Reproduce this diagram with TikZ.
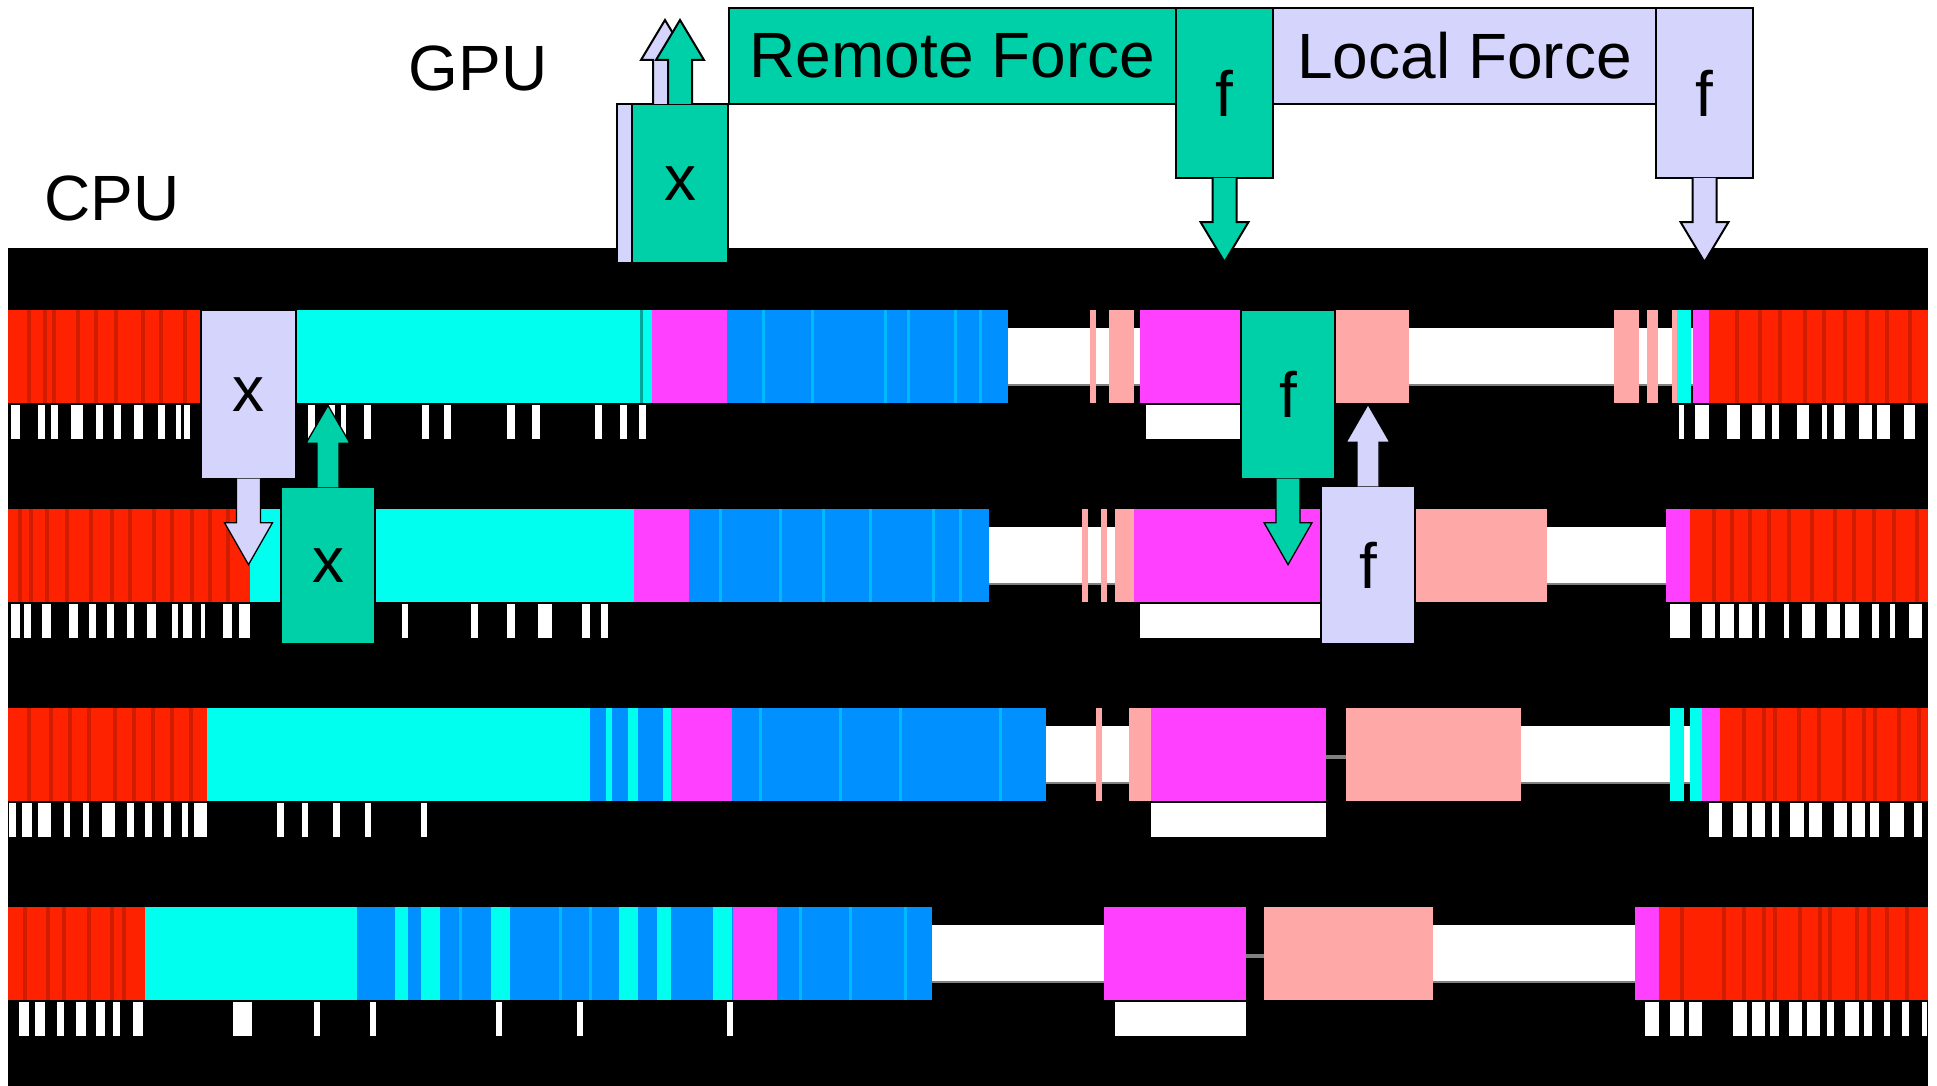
\documentclass[tikz,border=0pt]{standalone}
\usepackage{fontspec}
\setmainfont{Liberation Sans}
\usepackage{xcolor}
\usepackage{tikz}
\definecolor{gpugreen}{RGB}{0,208,168}
\definecolor{gpulav}{RGB}{212,212,252}
\definecolor{trred}{RGB}{255,34,0}
\definecolor{trdark}{RGB}{208,28,0}
\definecolor{trcyan}{RGB}{0,255,238}
\definecolor{trmag}{RGB}{255,64,255}
\definecolor{trblue}{RGB}{0,144,255}
\definecolor{trlight}{RGB}{0,186,255}
\definecolor{trpink}{RGB}{255,168,168}

\begin{document}
\begin{tikzpicture}[x=1pt, y=-1pt, font=\fontsize{64}{77}\selectfont,
	gbox/.style={draw=black, line width=2pt, fill=gpugreen, inner sep=0pt},
	lbox/.style={draw=black, line width=2pt, fill=gpulav, inner sep=0pt},
	cbox/.style={line width=1.3pt},
	idle/.style={fill=white},
	tick/.style={fill=white}]
	\useasboundingbox (0,0) rectangle (1937,1086);
	\fill[black] (8,248) rectangle (1928,1086);
	\node[anchor=base] (gpu) at (478,91) {GPU};
	\node[anchor=base] (cpu) at (112,220) {CPU};

	\begin{scope}[shift={(0,310)}]
		\fill[idle] (1008,18) rectangle (1709,76);
		\draw[gray, line width=2pt] (1008,75) -- (1709,75);
		\foreach \a/\b/\c in {8/250/trred, 250/652/trcyan, 652/727/trmag, 727/1008/trblue, 1090/1096/trpink, 1109/1134/trpink, 1140/1290/trmag, 1290/1409/trpink, 1614/1639/trpink, 1647/1658/trpink, 1672/1677/trpink, 1677/1691/trcyan, 1693/1709/trmag, 1709/1928/trred}
			\fill[\c] (\a,0) rectangle (\b,93);
		\fill[trcyan!65!black] (640,0) rectangle (643,93);
		\foreach \x in {763, 812, 885, 908, 955, 980}
			\fill[trlight] (\x-1.5,0) rectangle (\x+1.5,93);
		\foreach \x in {29, 45, 54, 78, 96, 116, 143, 161, 185, 1737, 1760, 1780, 1805, 1824, 1845, 1867, 1887, 1910}
			\fill[trdark] (\x-2,0) rectangle (\x+2,93);
		\foreach \a/\b in {11/20, 38/45, 51/58, 71/83, 96/103, 114/121, 134/143, 158/165, 176/181, 184/190, 308/315, 328/335, 341/346, 364/371, 422/429, 444/451, 507/515, 532/540, 595/602, 620/627, 639/646, 1146/1241, 1679/1684, 1695/1709, 1727/1740, 1752/1765, 1772/1779, 1797/1809, 1822/1827, 1834/1845, 1859/1872, 1877/1890, 1904/1915}
			\fill[tick] (\a,95) rectangle (\b,129);
	\end{scope}

	\begin{scope}[shift={(0,509)}]
		\fill[idle] (989,18) rectangle (1666,76);
		\draw[gray, line width=2pt] (989,75) -- (1666,75);
		\foreach \a/\b/\c in {8/250/trred, 250/634/trcyan, 634/689/trmag, 689/989/trblue, 1082/1088/trpink, 1101/1107/trpink, 1115/1134/trpink, 1134/1368/trmag, 1368/1547/trpink, 1666/1690/trmag, 1690/1928/trred}
			\fill[\c] (\a,0) rectangle (\b,93);
		\foreach \x in {720, 780, 823, 870, 933, 960}
			\fill[trlight] (\x-1.5,0) rectangle (\x+1.5,93);
		\foreach \x in {20, 31, 47, 67, 91, 112, 130, 154, 172, 192, 210, 228, 1714, 1732, 1750, 1769, 1789, 1812, 1835, 1854, 1874, 1894, 1917}
			\fill[trdark] (\x-2,0) rectangle (\x+2,93);
		\foreach \a/\b in {11/20, 24/31, 42/51, 69/78, 89/96, 107/114, 127/134, 147/156, 172/178, 183/192, 201/205, 223/232, 239/250, 402/408, 471/478, 507/515, 538/552, 582/590, 601/608, 1140/1321, 1670/1690, 1702/1715, 1720/1734, 1739/1752, 1759/1765, 1784/1789, 1802/1815, 1827/1840, 1845/1859, 1872/1879, 1890/1895, 1909/1922}
			\fill[tick] (\a,95) rectangle (\b,129);
	\end{scope}

	\begin{scope}[shift={(0,708)}]
		\foreach \a/\b in {1046/1129, 1521/1702}{
			\fill[idle] (\a,18) rectangle (\b,76);
			\draw[gray, line width=2pt] (\a,75) -- (\b,75);
		}
		\foreach \a/\b/\c in {8/207/trred, 207/590/trcyan, 590/671/trblue, 671/732/trmag, 732/1046/trblue, 1096/1102/trpink, 1129/1151/trpink, 1151/1326/trmag, 1346/1521/trpink, 1670/1684/trcyan, 1690/1702/trcyan, 1702/1720/trmag, 1720/1928/trred}
			\fill[\c] (\a,0) rectangle (\b,93);
		\fill[gray] (1326,47) rectangle (1346,51);
		\foreach \a/\b in {606/612, 628/638, 663/671}
			\fill[trcyan] (\a,0) rectangle (\b,93);
		\foreach \x in {760, 840, 900, 1000}
			\fill[trlight] (\x-1.5,0) rectangle (\x+1.5,93);
		\foreach \x in {29, 51, 70, 89, 115, 134, 153, 172, 191, 1744, 1764, 1775, 1799, 1819, 1844, 1864, 1875, 1899, 1919}
			\fill[trdark] (\x-2,0) rectangle (\x+2,93);
		\foreach \a/\b in {9/16, 22/32, 38/51, 64/70, 83/89, 102/115, 127/134, 145/152, 164/171, 182/188, 194/207, 277/284, 302/308, 333/340, 365/371, 421/427, 1151/1326, 1709/1722, 1733/1747, 1752/1765, 1772/1779, 1790/1804, 1809/1822, 1834/1847, 1852/1865, 1870/1879, 1890/1904, 1914/1922}
			\fill[tick] (\a,95) rectangle (\b,129);
	\end{scope}

	\begin{scope}[shift={(0,907)}]
		\foreach \a/\b in {932/1104, 1433/1635}{
			\fill[idle] (\a,18) rectangle (\b,76);
			\draw[gray, line width=2pt] (\a,75) -- (\b,75);
		}
		\foreach \a/\b/\c in {8/145/trred, 145/357/trcyan, 357/733/trblue, 733/777/trmag, 777/932/trblue, 1104/1246/trmag, 1264/1433/trpink, 1635/1659/trmag, 1659/1928/trred}
			\fill[\c] (\a,0) rectangle (\b,93);
		\fill[gray] (1246,47) rectangle (1264,51);
		\foreach \a/\b in {395/408, 421/440, 491/510, 619/638, 657/671, 713/732}
			\fill[trcyan] (\a,0) rectangle (\b,93);
		\foreach \x in {460, 560, 590, 800, 850, 905}
			\fill[trlight] (\x-1.5,0) rectangle (\x+1.5,93);
		\foreach \x in {25, 48, 64, 89, 112, 124, 1682, 1724, 1744, 1764, 1775, 1800, 1820, 1830, 1857, 1869, 1887, 1907}
			\fill[trdark] (\x-2,0) rectangle (\x+2,93);
		\foreach \a/\b in {19/29, 35/45, 57/64, 76/86, 96/105, 113/120, 133/143, 233/252, 314/320, 370/376, 496/502, 577/583, 727/733, 1115/1246, 1645/1659, 1670/1684, 1689/1702, 1733/1747, 1752/1765, 1770/1779, 1789/1802, 1807/1820, 1827/1834, 1845/1859, 1864/1872, 1884/1890, 1902/1909, 1922/1927}
			\fill[tick] (\a,95) rectangle (\b,129);
	\end{scope}

	\node[gbox, minimum width=447pt, minimum height=96pt] (remote) at (952.5,56) {Remote Force};
	\node[gbox, minimum width=97pt, minimum height=170pt] (fR) at (1224.5,93) {f};
	\node[lbox, minimum width=383pt, minimum height=96pt] (local) at (1464.5,56) {Local Force};
	\node[lbox, minimum width=97pt, minimum height=170pt] (fL) at (1704.5,93) {f};
	\node[lbox, minimum width=96pt, minimum height=159pt] (xL) at (665,183.5) {};
	\node[gbox, minimum width=96pt, minimum height=159pt] (xR) at (680,183.5) {x};
	\foreach \n/\c in {fR/gpugreen, fL/gpulav}
		\filldraw[draw=black, line width=2pt, fill=\c] ([xshift=12pt, yshift=1pt]\n.south) -- ++(0,44) -- ++(12,0) -- ++(-24,40) -- ++(-24,-40) -- ++(12,0) -- ++(0,-44);
	\foreach \n/\c in {xL/gpulav, xR/gpugreen}
		\filldraw[draw=black, line width=2pt, fill=\c] ([xshift=-12pt, yshift=-1pt]\n.north) -- ++(0,-44) -- ++(-12,0) -- ++(24,-40) -- ++(24,40) -- ++(-12,0) -- ++(0,44);

	\node[lbox, cbox, minimum width=95pt, minimum height=169pt] (xc1) at (248.5,394.5) {x};
	\node[gbox, cbox, minimum width=94pt, minimum height=157pt] (xc2) at (328,565.5) {x};
	\node[gbox, cbox, minimum width=94pt, minimum height=169pt] (fc1) at (1288,394.5) {f};
	\node[lbox, cbox, minimum width=94pt, minimum height=158pt] (fc2) at (1368,565) {f};
	\foreach \n/\c in {xc1/gpulav, fc1/gpugreen}
		\filldraw[draw=black, line width=1.3pt, fill=\c] ([xshift=12pt, yshift=1pt]\n.south) -- ++(0,44) -- ++(12,0) -- ++(-24,42) -- ++(-24,-42) -- ++(12,0) -- ++(0,-44);
	\foreach \n/\c in {xc2/gpugreen, fc2/gpulav}
		\filldraw[draw=black, line width=1.3pt, fill=\c] ([xshift=-11pt, yshift=-1pt]\n.north) -- ++(0,-44) -- ++(-11,0) -- ++(22,-38) -- ++(22,38) -- ++(-11,0) -- ++(0,44);
\end{tikzpicture}
\end{document}
